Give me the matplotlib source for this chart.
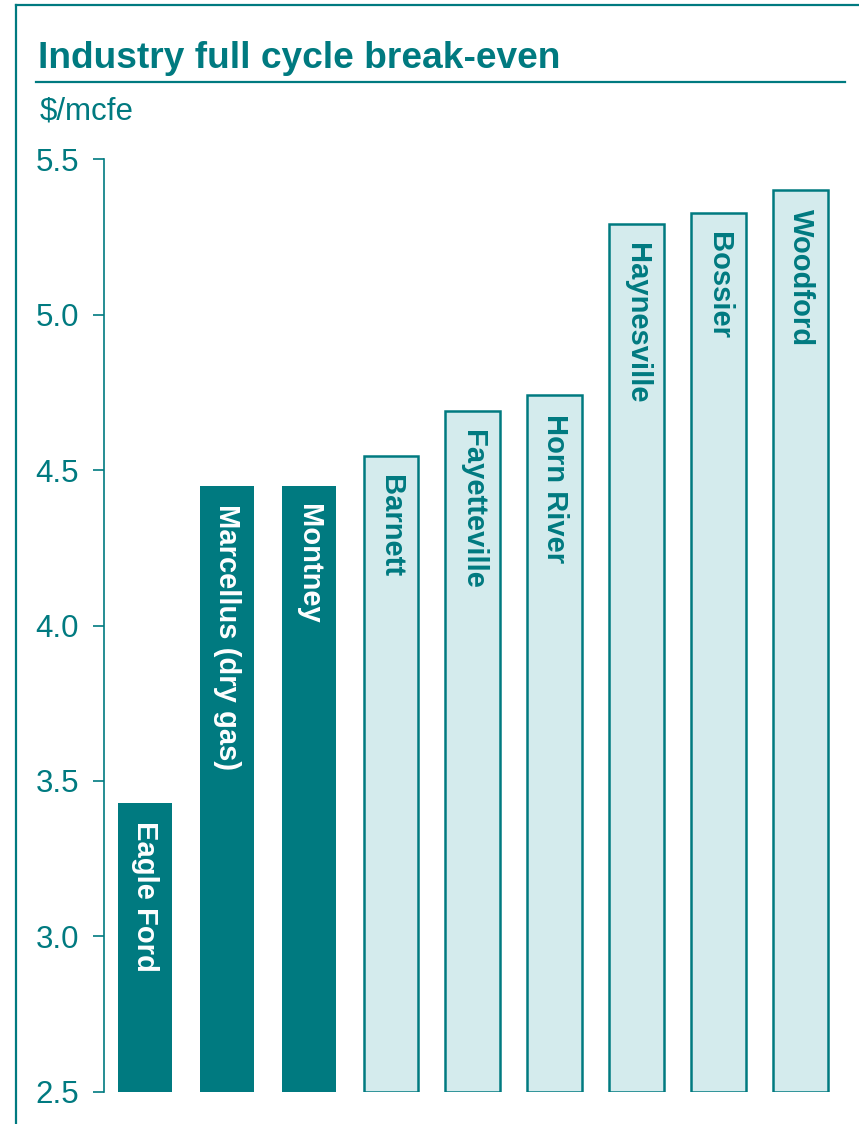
import numpy as np
import matplotlib.pyplot as plt
from matplotlib.lines import Line2D

plt.rcParams['font.family'] = ['Liberation Sans', 'DejaVu Sans']

plays = ['Eagle Ford', 'Marcellus (dry gas)', 'Montney', 'Barnett', 'Fayetteville',
         'Horn River', 'Haynesville', 'Bossier', 'Woodford']
breakeven = [3.43, 4.45, 4.45, 4.545, 4.69, 4.74, 5.29, 5.325, 5.40]
highlight = [True, True, True, False, False, False, False, False, False]
yticks = [2.5, 3.0, 3.5, 4.0, 4.5, 5.0, 5.5]

teal = '#007A80'
light = '#D4EBED'

fig = plt.figure(figsize=(8.59, 11.24), dpi=100)
ax = fig.add_axes([0.1211, 0.0285, 0.859, 0.830])

x = np.arange(len(plays))
for xi, v, name, hl in zip(x, breakeven, plays, highlight):
    if hl:
        ax.bar(xi, v - 2.5, bottom=2.5, width=0.67, color=teal, edgecolor='none')
        tc = 'white'
    else:
        ax.bar(xi, v - 2.5, bottom=2.5, width=0.67, color=light,
               edgecolor=teal, linewidth=1.8)
        tc = teal
    ax.text(xi, v - 0.06, name, rotation=-90, ha='center', va='top',
            color=tc, fontsize=21, fontweight='bold')

ax.set_xlim(-0.5, 8.5)
ax.set_ylim(2.5, 5.5)
ax.set_yticks(yticks)
ax.set_yticklabels([f'{t:.1f}' for t in yticks])
ax.set_xticks([])
for s in ['top', 'right', 'bottom']:
    ax.spines[s].set_visible(False)
ax.spines['left'].set_color(teal)
ax.spines['left'].set_linewidth(1.2)
ax.tick_params(axis='y', colors=teal, labelsize=22.5, length=8, width=1.2, pad=10)

fig.text(0.0442, 0.9395, 'Industry full cycle break-even', color=teal,
         fontsize=26.7, fontweight='bold', va='baseline')
fig.text(0.0466, 0.894, '$/mcfe', color=teal, fontsize=22.5, va='baseline')
fig.add_artist(Line2D([0.042, 0.984], [0.927, 0.927], color=teal, lw=1.6))
# frame
fig.add_artist(Line2D([0.0186, 0.0186], [0.0, 0.9955], color=teal, lw=1.6))
fig.add_artist(Line2D([0.0186, 1.0], [0.9955, 0.9955], color=teal, lw=1.6))

fig.savefig('out.png', dpi=100)
